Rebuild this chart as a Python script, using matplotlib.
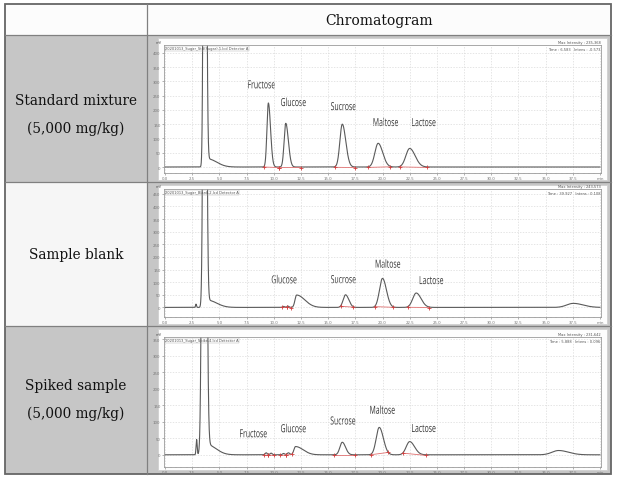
import numpy as np
import matplotlib
matplotlib.use("Agg")
import matplotlib.pyplot as plt
import matplotlib.transforms as mtransforms
from matplotlib.patches import Rectangle, PathPatch
from matplotlib.textpath import TextPath
from matplotlib.font_manager import FontProperties

W, H = 620, 485

header = "Chromatogram"
row_labels = ["Standard mixture\n(5,000 mg/kg)", "Sample blank", "Spiked sample\n(5,000 mg/kg)"]
file_names = ["20201013_Sugar_Std(Sugar)-1.lcd Detector A",
              "20201013_Sugar_Blank-2.lcd Detector A",
              "20201013_Sugar_Spike-4.lcd Detector A"]
max_int = ["Max Intensity : 235,368", "Max Intensity : 243,573", "Max Intensity : 231,642"]
time_int = ["Time : 6.583   Intens : -0.573", "Time : 39.927   Intens : 0.108", "Time : 5.888   Intens : 0.096"]

# peaks: retention time (min), height (mV), left / right width (min)
std_rt = [3.65, 3.95, 9.5, 11.1, 16.3, 19.6, 22.5]
std_h = [3000, 28, 224, 153, 150, 83, 65]
std_wl = [0.10, 0.05, 0.13, 0.15, 0.22, 0.3, 0.35]
std_wr = [0.12, 0.8, 0.2, 0.24, 0.32, 0.42, 0.5]

blk_rt = [2.84, 3.65, 3.95, 10.9, 11.3, 12.1, 16.6, 20.0, 23.1, 37.55]
blk_h = [13, 3000, 28, 4, 5, 49, 50, 115, 57, 16]
blk_wl = [0.04, 0.12, 0.05, 0.1, 0.1, 0.15, 0.22, 0.28, 0.32, 0.6]
blk_wr = [0.05, 0.13, 0.8, 0.1, 0.1, 0.75, 0.3, 0.36, 0.45, 0.9]

spk_rt = [2.9, 3.6, 3.9, 9.3, 9.75, 10.9, 11.35, 12.0, 16.3, 19.7, 22.5, 36.2]
spk_h = [46, 3000, 30, 6, 5, 4, 6, 25, 38, 83, 40, 13]
spk_wl = [0.05, 0.15, 0.05, 0.1, 0.1, 0.1, 0.12, 0.15, 0.22, 0.28, 0.32, 0.6]
spk_wr = [0.05, 0.16, 0.8, 0.1, 0.1, 0.1, 0.12, 0.7, 0.3, 0.38, 0.45, 0.9]

# integration limits (start, end) in min
std_int = [(9.1, 10.5), (10.5, 12.5), (15.6, 17.5), (18.65, 20.7), (21.6, 24.1)]
blk_int = [(10.8, 11.2), (11.2, 11.6), (16.15, 17.3), (19.3, 21.0), (22.3, 24.3)]
spk_int = [(9.1, 9.5), (9.5, 10.0), (10.6, 11.1), (11.1, 11.7), (15.5, 17.5), (18.95, 20.5), (21.9, 24.0)]

# peak names and where they are written (min, mV)
std_names = ["Fructose", "Glucose", "Sucrose", "Maltose", "Lactose"]
std_lx = [8.87, 11.8, 16.4, 20.3, 23.8]
std_ly = [289, 228, 213, 158, 157]
blk_names = ["Glucose", "Sucrose", "Maltose", "Lactose"]
blk_lx = [10.95, 16.4, 20.5, 24.5]
blk_ly = [112, 112, 174, 108]
spk_names = ["Fructose", "Glucose", "Sucrose", "Maltose", "Lactose"]
spk_lx = [8.13, 11.8, 16.36, 20.0, 23.8]
spk_ly = [65, 81, 104, 137, 81]

rows = [
    (std_rt, std_h, std_wl, std_wr, std_int, std_names, std_lx, std_ly, (-21, 427)),
    (blk_rt, blk_h, blk_wl, blk_wr, blk_int, blk_names, blk_lx, blk_ly, (-38, 469)),
    (spk_rt, spk_h, spk_wl, spk_wr, spk_int, spk_names, spk_lx, spk_ly, (-37, 357)),
]

# layout in pixels (left, top, right, bottom)
table = (5, 5, 611, 475)
col_x = 147
row_y = [36, 183, 327]
label_y = [115, 255, 400]
panels = [(158, 39, 607, 181), (158, 186, 607, 325), (158, 330, 607, 471)]
plots = [(164, 46, 601, 174), (164, 190, 601, 318), (164, 338, 601, 468)]
left_colors = ["#c6c6c6", "#f6f6f6", "#c6c6c6"]

fig = plt.figure(figsize=(W / 100, H / 100), dpi=100)
bg = fig.add_axes([0, 0, 1, 1])
bg.set_xlim(0, W)
bg.set_ylim(H, 0)
bg.axis("off")

# header row
bg.add_patch(Rectangle((table[0], table[1]), table[2] - table[0], row_y[0] - table[1], fc="#fcfcfc", ec="none"))
bounds = row_y + [table[3]]
for i in range(3):
    y0, y1 = bounds[i], bounds[i + 1]
    bg.add_patch(Rectangle((table[0], y0), col_x - table[0], y1 - y0, fc=left_colors[i], ec="none"))
    bg.add_patch(Rectangle((col_x, y0), table[2] - col_x, y1 - y0, fc="#c6c6c6", ec="none"))
    bg.text((table[0] + col_x) / 2, label_y[i], row_labels[i], ha="center", va="center",
            family="DejaVu Serif", fontsize=9.8, color="#111111", linespacing=2.15)
    p = panels[i]
    bg.add_patch(Rectangle((p[0], p[1]), p[2] - p[0], p[3] - p[1], fc="#fdfdfd", ec="#d0d0d0", lw=0.6))

bg.text((col_x + table[2]) / 2, (table[1] + row_y[0]) / 2 + 1, header, ha="center", va="center",
        family="DejaVu Serif", fontsize=10, color="#111111")

for y in row_y:
    bg.plot([table[0], table[2]], [y, y], color="#808080", lw=0.9)
bg.plot([col_x, col_x], [table[1], table[3]], color="#808080", lw=0.9)
bg.add_patch(Rectangle((table[0], table[1]), table[2] - table[0], table[3] - table[1], fc="none", ec="#666666", lw=1.3))

t = np.linspace(0, 40, 8000)
label_prop = FontProperties(family="Open Sans")
k = 100 / 72


def squeezed(ax, x, y, s):
    # narrow peak names, like the squashed screenshot
    tp = TextPath((0, 0), s, size=8, prop=label_prop)
    bb = tp.get_extents()
    px, py = ax.transData.transform((x, y))
    tr = (mtransforms.Affine2D().translate(-(bb.x0 + bb.x1) / 2, -(bb.y0 + bb.y1) / 2)
          .scale(0.62 * k, k).translate(px, py))
    ax.add_patch(PathPatch(tp, transform=tr, fc="#333333", ec="none"))


for i, (rt, hh, wl, wr, integ, names, lx, ly, ylim) in enumerate(rows):
    l, tp_, r, b = plots[i]
    ax = fig.add_axes([l / W, 1 - b / H, (r - l) / W, (b - tp_) / H])
    sig = np.zeros_like(t)
    for c, h, a, w in zip(rt, hh, wl, wr):
        s = np.where(t < c, a, w)
        sig += h * np.exp(-0.5 * ((t - c) / s) ** 2)
    ax.plot(t, sig, color="#5a5a5a", lw=0.8)
    for a, e in integ:
        ya, ye = np.interp([a, e], t, sig)
        ax.plot([a, e], [ya - 2, ye - 2], color="#e07070", lw=0.6)
        ax.plot([a, e], [ya - 2, ye - 2], ls="none", marker="+", ms=2.5, mew=0.6, color="#d04040")
    ax.set_xlim(-0.1, 40.1)
    ax.set_ylim(*ylim)
    ax.set_xticks(np.arange(0, 40.1, 2.5))
    ax.set_xticklabels(["%.1f" % v for v in np.arange(0, 37.6, 2.5)] + ["min"])
    ax.set_xticks(np.arange(0, 40.1, 0.5), minor=True)
    yt = np.arange(0, ylim[1], 50)
    ax.set_yticks(yt)
    ax.set_yticklabels(["%d" % v for v in yt])
    ax.tick_params(axis="both", which="major", labelsize=2.8, colors="#777777", length=1.5, width=0.4, pad=1)
    ax.tick_params(axis="x", which="minor", length=1, width=0.3, colors="#999999")
    ax.grid(True, which="major", color="#dadada", lw=0.5, ls=(0, (2, 2)))
    for sp in ax.spines.values():
        sp.set_color("#9a9a9a")
        sp.set_linewidth(0.6)
    for n, x, y in zip(names, lx, ly):
        squeezed(ax, x, y, n)
    ax.text(0.003, 0.99, file_names[i], transform=ax.transAxes, ha="left", va="top", fontsize=2.6, color="#555555",
            bbox=dict(fc="none", ec="#aaaaaa", lw=0.3, pad=0.3))
    ax.text(0.998, 0.985, time_int[i], transform=ax.transAxes, ha="right", va="top", fontsize=2.6, color="#555555")
    ax.text(1.0, 1.01, max_int[i], transform=ax.transAxes, ha="right", va="bottom", fontsize=2.6, color="#555555")
    ax.text(-0.005, 1.01, "mV", transform=ax.transAxes, ha="right", va="bottom", fontsize=2.6, color="#555555")

fig.savefig("out.png", dpi=100)
